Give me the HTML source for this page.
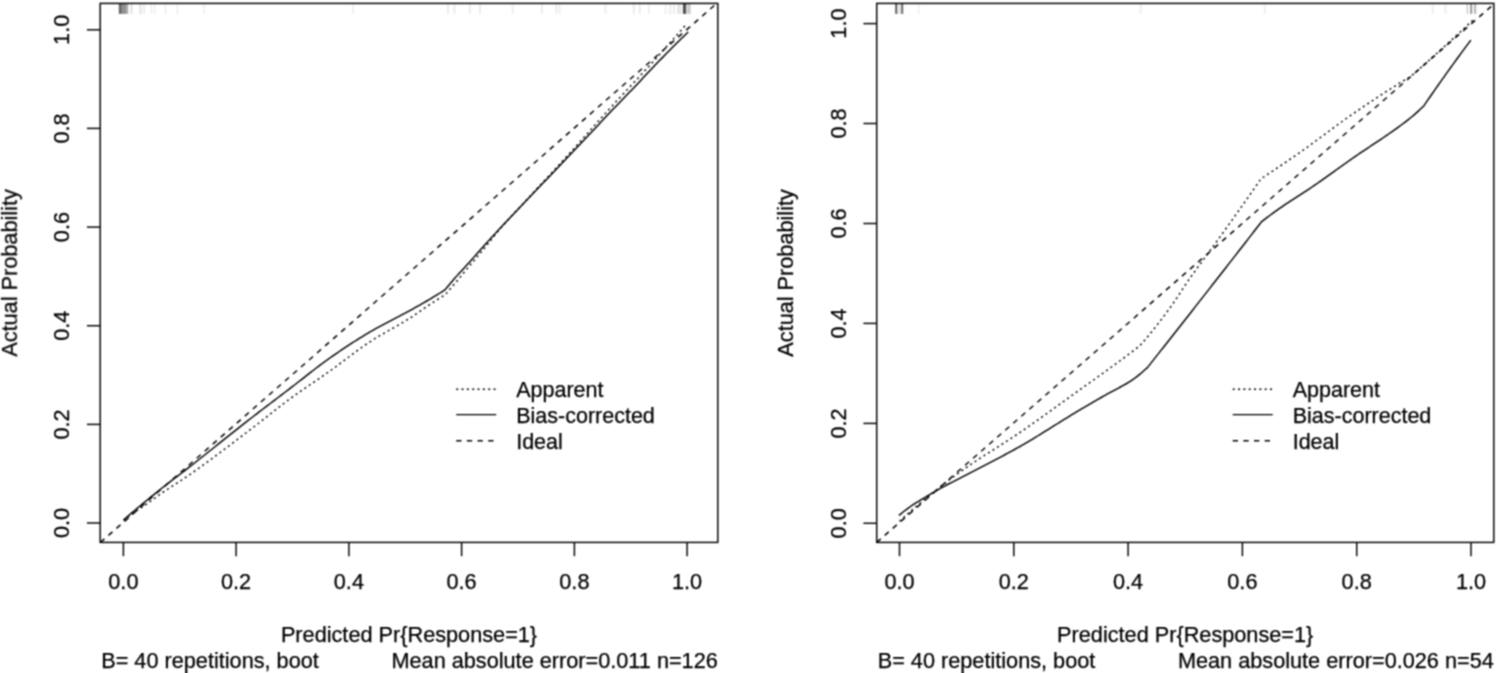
<!DOCTYPE html>
<html><head><meta charset="utf-8"><title>Calibration plots</title>
<style>html,body{margin:0;padding:0;background:#fff;width:1496px;height:673px;overflow:hidden}</style>
</head><body>
<svg width="1496" height="673" viewBox="0 0 1496 673" style="display:block" font-family='"Liberation Sans", sans-serif' font-size="21.7" fill="#000">
<style>text{stroke:#000;stroke-width:0.25px}</style>
<defs><filter id="bl" filterUnits="userSpaceOnUse" x="0" y="0" width="1496" height="673" color-interpolation-filters="sRGB"><feConvolveMatrix order="3" kernelMatrix="1 2 1 2 4 2 1 2 1" divisor="16" edgeMode="duplicate"/></filter></defs>
<g filter="url(#bl)">
<rect width="1496" height="673" fill="#fff"/>
<clipPath id="cL"><rect x="100.2" y="3.4" width="617.5999999999999" height="539.0"/></clipPath>
<rect x="118.8" y="3.4" width="3.0" height="10.5" fill="#686868"/>
<rect x="121.8" y="3.4" width="1.8" height="10.5" fill="#868686"/>
<rect x="123.6" y="3.4" width="2.2" height="10.5" fill="#808080"/>
<rect x="125.8" y="3.4" width="2.4" height="10.5" fill="#aaaaaa"/>
<rect x="130.5" y="3.4" width="2.0" height="10.5" fill="#e0e0e0"/>
<rect x="139.2" y="3.4" width="2.6" height="10.5" fill="#e6e6e6"/>
<rect x="143.2" y="3.4" width="1.8" height="10.5" fill="#eaeaea"/>
<rect x="150.6" y="3.4" width="1.6" height="10.5" fill="#eeeeee"/>
<rect x="153.8" y="3.4" width="1.8" height="10.5" fill="#f0f0f0"/>
<rect x="164.6" y="3.4" width="1.8" height="10.5" fill="#efefef"/>
<rect x="176.6" y="3.4" width="1.8" height="10.5" fill="#efefef"/>
<rect x="203.4" y="3.4" width="1.8" height="10.5" fill="#efefef"/>
<rect x="352.2" y="3.4" width="1.8" height="10.5" fill="#efefef"/>
<rect x="447.1" y="3.4" width="1.8" height="10.5" fill="#eaeaea"/>
<rect x="453.5" y="3.4" width="1.8" height="10.5" fill="#eaeaea"/>
<rect x="468.8" y="3.4" width="1.8" height="10.5" fill="#eaeaea"/>
<rect x="479.2" y="3.4" width="1.8" height="10.5" fill="#eaeaea"/>
<rect x="511.7" y="3.4" width="1.8" height="10.5" fill="#eeeeee"/>
<rect x="540.9" y="3.4" width="1.8" height="10.5" fill="#eaeaea"/>
<rect x="555.4" y="3.4" width="1.8" height="10.5" fill="#eaeaea"/>
<rect x="558.6" y="3.4" width="1.8" height="10.5" fill="#eeeeee"/>
<rect x="604.6" y="3.4" width="1.8" height="10.5" fill="#eeeeee"/>
<rect x="632.9" y="3.4" width="1.8" height="10.5" fill="#eaeaea"/>
<rect x="638.8" y="3.4" width="1.8" height="10.5" fill="#eaeaea"/>
<rect x="647.9" y="3.4" width="1.8" height="10.5" fill="#eeeeee"/>
<rect x="664.3" y="3.4" width="2.7" height="10.5" fill="#f4f4f4"/>
<rect x="668.8" y="3.4" width="2.7" height="10.5" fill="#f0f0f0"/>
<rect x="673.1" y="3.4" width="1.9" height="10.5" fill="#ececec"/>
<rect x="677.1" y="3.4" width="4.3" height="10.5" fill="#e6e6e6"/>
<rect x="682.9" y="3.4" width="3.2" height="10.5" fill="#525252"/>
<rect x="686.5" y="3.4" width="4.2" height="10.5" fill="#cccccc"/>
<line clip-path="url(#cL)" x1="100.4" y1="542.4" x2="799.4" y2="-68.9" stroke="#000" stroke-width="1.45" stroke-dasharray="5.33 5.33"/>
<polyline points="123.48,520.28 125.37,518.85 127.27,517.44 129.16,516.04 131.05,514.66 132.95,513.29 134.84,511.95 136.73,510.62 138.62,509.34 140.52,508.07 142.41,506.82 144.30,505.57 146.19,504.31 148.09,503.02 149.98,501.69 151.87,500.30 153.76,498.88 155.66,497.46 157.55,496.07 159.44,494.73 161.34,493.43 163.23,492.14 165.12,490.87 167.01,489.61 168.91,488.37 170.80,487.13 172.69,485.90 174.58,484.68 176.48,483.45 178.37,482.22 180.26,480.99 182.16,479.74 184.05,478.49 185.94,477.22 187.83,475.93 189.73,474.63 191.62,473.30 193.51,471.97 195.40,470.63 197.30,469.28 199.19,467.92 201.08,466.56 202.98,465.18 204.87,463.81 206.76,462.42 208.65,461.04 210.55,459.64 212.44,458.24 214.33,456.84 216.22,455.43 218.12,454.01 220.01,452.60 221.90,451.17 223.79,449.75 225.69,448.32 227.58,446.89 229.47,445.46 231.37,444.02 233.26,442.59 235.15,441.15 237.04,439.71 238.94,438.27 240.83,436.83 242.72,435.38 244.61,433.94 246.51,432.50 248.40,431.06 250.29,429.62 252.19,428.17 254.08,426.72 255.97,425.25 257.86,423.77 259.76,422.28 261.65,420.79 263.54,419.30 265.43,417.80 267.33,416.31 269.22,414.81 271.11,413.31 273.00,411.82 274.90,410.33 276.79,408.85 278.68,407.38 280.58,405.91 282.47,404.46 284.36,403.02 286.25,401.59 288.15,400.17 290.04,398.78 291.93,397.40 293.82,396.03 295.72,394.68 297.61,393.34 299.50,392.01 301.40,390.69 303.29,389.38 305.18,388.08 307.07,386.78 308.97,385.49 310.86,384.19 312.75,382.90 314.64,381.61 316.54,380.32 318.43,379.03 320.32,377.73 322.21,376.42 324.11,375.11 326.00,373.79 327.89,372.46 329.79,371.12 331.68,369.76 333.57,368.39 335.46,367.00 337.36,365.60 339.25,364.18 341.14,362.76 343.03,361.33 344.93,359.90 346.82,358.47 348.71,357.04 350.61,355.61 352.50,354.19 354.39,352.77 356.28,351.37 358.18,349.98 360.07,348.61 361.96,347.25 363.85,345.92 365.75,344.60 367.64,343.32 369.53,342.06 371.43,340.83 373.32,339.62 375.21,338.45 377.10,337.29 379.00,336.16 380.89,335.05 382.78,333.94 384.67,332.85 386.57,331.77 388.46,330.70 390.35,329.63 392.24,328.56 394.14,327.49 396.03,326.42 397.92,325.33 399.82,324.24 401.71,323.13 403.60,322.01 405.49,320.87 407.39,319.71 409.28,318.52 411.17,317.31 413.06,316.06 414.96,314.78 416.85,313.48 418.74,312.16 420.64,310.84 422.53,309.51 424.42,308.19 426.31,306.88 428.21,305.59 430.10,304.33 431.99,303.09 433.88,301.87 435.78,300.67 437.67,299.48 439.56,298.30 441.45,297.13 443.35,295.97 445.24,294.83 447.13,292.61 449.03,290.39 450.92,288.17 452.82,285.93 454.71,283.68 456.61,281.43 458.50,279.16 460.39,276.88 462.29,274.60 464.18,272.32 466.08,270.03 467.97,267.76 469.86,265.49 471.76,263.23 473.65,260.97 475.55,258.72 477.44,256.46 479.34,254.21 481.23,251.94 483.12,249.66 485.02,247.37 486.91,245.06 488.81,242.70 490.70,240.33 492.59,237.95 494.49,235.58 496.38,233.26 498.28,230.99 500.17,228.77 502.07,226.60 503.96,224.45 505.85,222.33 507.75,220.23 509.64,218.15 511.54,216.09 513.43,214.04 515.32,212.00 517.22,209.98 519.11,207.95 521.01,205.93 522.90,203.90 524.79,201.88 526.69,199.84 528.58,197.79 530.48,195.74 532.37,193.68 534.27,191.62 536.16,189.57 538.05,187.52 539.95,185.47 541.84,183.43 543.74,181.39 545.63,179.34 547.52,177.30 549.42,175.26 551.31,173.21 553.21,171.17 555.10,169.12 557.00,167.07 558.89,165.02 560.78,162.96 562.68,160.90 564.57,158.84 566.47,156.77 568.36,154.70 570.25,152.62 572.15,150.53 574.04,148.44 575.94,146.34 577.83,144.23 579.73,142.11 581.62,140.00 583.51,137.88 585.41,135.75 587.30,133.63 589.20,131.50 591.09,129.37 592.98,127.25 594.88,125.12 596.77,123.00 598.67,120.88 600.56,118.76 602.46,116.65 604.35,114.55 606.24,112.45 608.14,110.36 610.03,108.27 611.93,106.20 613.82,104.14 615.71,102.08 617.61,100.03 619.50,97.98 621.40,95.94 623.29,93.91 625.19,91.87 627.08,89.84 628.97,87.81 630.87,85.78 632.76,83.75 634.66,81.72 636.55,79.68 638.44,77.65 640.34,75.60 642.23,73.55 644.13,71.50 646.02,69.44 647.92,67.37 649.81,65.29 651.70,63.20 653.60,61.11 655.49,59.01 657.39,56.91 659.28,54.80 661.17,52.69 663.07,50.58 664.96,48.47 666.86,46.34 668.75,44.22 670.65,42.09 672.54,39.96 674.43,37.82 676.33,35.68 678.22,33.54 680.12,31.39 682.01,29.23 683.90,27.08 685.80,24.92" fill="none" stroke="#000" stroke-width="1.45" stroke-dasharray="2 3.33" stroke-linejoin="round"/>
<polyline points="123.59,519.89 125.49,518.26 127.38,516.64 129.27,515.02 131.16,513.42 133.05,511.81 134.95,510.22 136.84,508.63 138.73,507.04 140.62,505.47 142.51,503.90 144.41,502.33 146.30,500.78 148.19,499.22 150.08,497.68 151.97,496.14 153.87,494.61 155.76,493.08 157.65,491.56 159.54,490.04 161.44,488.54 163.33,487.04 165.22,485.56 167.11,484.09 169.00,482.63 170.90,481.18 172.79,479.73 174.68,478.29 176.57,476.85 178.46,475.41 180.36,473.97 182.25,472.52 184.14,471.08 186.03,469.62 187.92,468.16 189.82,466.69 191.71,465.21 193.60,463.73 195.49,462.24 197.38,460.75 199.28,459.26 201.17,457.76 203.06,456.26 204.95,454.76 206.84,453.25 208.74,451.74 210.63,450.24 212.52,448.73 214.41,447.21 216.30,445.70 218.20,444.19 220.09,442.68 221.98,441.17 223.87,439.65 225.76,438.14 227.66,436.63 229.55,435.13 231.44,433.62 233.33,432.11 235.22,430.61 237.12,429.11 239.01,427.62 240.90,426.12 242.79,424.64 244.68,423.15 246.58,421.67 248.47,420.19 250.36,418.72 252.25,417.26 254.14,415.79 256.04,414.33 257.93,412.88 259.82,411.43 261.71,409.98 263.60,408.53 265.50,407.09 267.39,405.65 269.28,404.21 271.17,402.77 273.07,401.33 274.96,399.90 276.85,398.46 278.74,397.02 280.63,395.59 282.53,394.15 284.42,392.71 286.31,391.27 288.20,389.83 290.09,388.38 291.99,386.93 293.88,385.47 295.77,384.01 297.66,382.53 299.55,381.05 301.45,379.57 303.34,378.09 305.23,376.60 307.12,375.12 309.01,373.64 310.91,372.17 312.80,370.70 314.69,369.24 316.58,367.79 318.47,366.35 320.37,364.92 322.26,363.51 324.15,362.11 326.04,360.73 327.93,359.37 329.83,358.03 331.72,356.71 333.61,355.39 335.50,354.08 337.39,352.78 339.29,351.49 341.18,350.21 343.07,348.93 344.96,347.67 346.85,346.42 348.75,345.17 350.64,343.94 352.53,342.71 354.42,341.50 356.31,340.30 358.21,339.11 360.10,337.93 361.99,336.76 363.88,335.60 365.77,334.46 367.67,333.32 369.56,332.20 371.45,331.10 373.34,330.01 375.23,328.94 377.13,327.89 379.02,326.86 380.91,325.83 382.80,324.82 384.70,323.82 386.59,322.82 388.48,321.84 390.37,320.85 392.26,319.87 394.16,318.89 396.05,317.91 397.94,316.93 399.83,315.94 401.72,314.94 403.62,313.94 405.51,312.93 407.40,311.91 409.29,310.87 411.18,309.82 413.08,308.77 414.97,307.71 416.86,306.65 418.75,305.59 420.64,304.51 422.54,303.43 424.43,302.34 426.32,301.25 428.21,300.14 430.10,299.02 432.00,297.89 433.89,296.74 435.78,295.59 437.67,294.42 439.56,293.24 441.46,292.06 443.35,290.86 445.24,289.65 447.14,287.29 449.04,284.96 450.94,282.67 452.83,280.43 454.73,278.24 456.63,276.12 458.53,274.04 460.43,271.99 462.32,269.95 464.22,267.91 466.12,265.84 468.02,263.75 469.92,261.64 471.82,259.51 473.71,257.38 475.61,255.24 477.51,253.10 479.41,250.96 481.31,248.82 483.21,246.69 485.10,244.57 487.00,242.46 488.90,240.37 490.80,238.30 492.70,236.23 494.60,234.18 496.49,232.13 498.39,230.09 500.29,228.06 502.19,226.03 504.09,224.01 505.99,221.99 507.88,219.98 509.78,217.97 511.68,215.97 513.58,213.97 515.48,211.97 517.38,209.97 519.27,207.98 521.17,205.98 523.07,203.99 524.97,201.99 526.87,200.00 528.77,198.00 530.66,196.00 532.56,194.01 534.46,192.02 536.36,190.03 538.26,188.04 540.15,186.06 542.05,184.08 543.95,182.10 545.85,180.13 547.75,178.15 549.65,176.17 551.54,174.20 553.44,172.22 555.34,170.25 557.24,168.27 559.14,166.29 561.04,164.31 562.93,162.33 564.83,160.34 566.73,158.35 568.63,156.36 570.53,154.36 572.43,152.36 574.32,150.36 576.22,148.35 578.12,146.34 580.02,144.32 581.92,142.30 583.82,140.29 585.71,138.27 587.61,136.24 589.51,134.22 591.41,132.20 593.31,130.18 595.21,128.16 597.10,126.14 599.00,124.13 600.90,122.11 602.80,120.10 604.70,118.09 606.59,116.08 608.49,114.08 610.39,112.09 612.29,110.10 614.19,108.12 616.09,106.14 617.98,104.17 619.88,102.20 621.78,100.24 623.68,98.27 625.58,96.31 627.48,94.34 629.37,92.37 631.27,90.39 633.17,88.41 635.07,86.43 636.97,84.43 638.87,82.42 640.76,80.41 642.66,78.36 644.56,76.29 646.46,74.23 648.36,72.19 650.26,70.18 652.15,68.20 654.05,66.22 655.95,64.25 657.85,62.28 659.75,60.32 661.65,58.37 663.54,56.42 665.44,54.49 667.34,52.56 669.24,50.64 671.14,48.73 673.04,46.82 674.93,44.93 676.83,43.05 678.73,41.18 680.63,39.33 682.53,37.48 684.42,35.65 686.32,33.82 688.22,32.02" fill="none" stroke="#000" stroke-width="1.45" stroke-linejoin="round"/>
<rect x="100.2" y="3.4" width="617.6" height="539.0" fill="none" stroke="#000" stroke-width="1.45"/>
<line x1="123.4" y1="542.4" x2="123.4" y2="556.2" stroke="#000" stroke-width="1.45"/>
<line x1="86.9" y1="523.0" x2="100.2" y2="523.0" stroke="#000" stroke-width="1.45"/>
<text x="123.4" y="589.4" text-anchor="middle">0.0</text>
<text transform="translate(69.3,523.0) rotate(-90)" x="0" y="0" text-anchor="middle">0.0</text>
<line x1="236.1" y1="542.4" x2="236.1" y2="556.2" stroke="#000" stroke-width="1.45"/>
<line x1="86.9" y1="424.4" x2="100.2" y2="424.4" stroke="#000" stroke-width="1.45"/>
<text x="236.1" y="589.4" text-anchor="middle">0.2</text>
<text transform="translate(69.3,424.4) rotate(-90)" x="0" y="0" text-anchor="middle">0.2</text>
<line x1="348.9" y1="542.4" x2="348.9" y2="556.2" stroke="#000" stroke-width="1.45"/>
<line x1="86.9" y1="325.7" x2="100.2" y2="325.7" stroke="#000" stroke-width="1.45"/>
<text x="348.9" y="589.4" text-anchor="middle">0.4</text>
<text transform="translate(69.3,325.7) rotate(-90)" x="0" y="0" text-anchor="middle">0.4</text>
<line x1="461.6" y1="542.4" x2="461.6" y2="556.2" stroke="#000" stroke-width="1.45"/>
<line x1="86.9" y1="227.1" x2="100.2" y2="227.1" stroke="#000" stroke-width="1.45"/>
<text x="461.6" y="589.4" text-anchor="middle">0.6</text>
<text transform="translate(69.3,227.1) rotate(-90)" x="0" y="0" text-anchor="middle">0.6</text>
<line x1="574.4" y1="542.4" x2="574.4" y2="556.2" stroke="#000" stroke-width="1.45"/>
<line x1="86.9" y1="128.4" x2="100.2" y2="128.4" stroke="#000" stroke-width="1.45"/>
<text x="574.4" y="589.4" text-anchor="middle">0.8</text>
<text transform="translate(69.3,128.4) rotate(-90)" x="0" y="0" text-anchor="middle">0.8</text>
<line x1="687.1" y1="542.4" x2="687.1" y2="556.2" stroke="#000" stroke-width="1.45"/>
<line x1="86.9" y1="29.8" x2="100.2" y2="29.8" stroke="#000" stroke-width="1.45"/>
<text x="687.1" y="589.4" text-anchor="middle">1.0</text>
<text transform="translate(69.3,29.8) rotate(-90)" x="0" y="0" text-anchor="middle">1.0</text>
<text transform="translate(16.9,272.9) rotate(-90)" text-anchor="middle">Actual Probability</text>
<text x="409.0" y="641.6" text-anchor="middle">Predicted Pr{Response=1}</text>
<text x="101.2" y="667.6" >B= 40 repetitions, boot</text>
<text x="717.8" y="667.6" text-anchor="end">Mean absolute error=0.011 n=126</text>
<line x1="456.2" y1="389.2" x2="496.2" y2="389.2" stroke="#000" stroke-width="1.45" stroke-dasharray="2 3.33"/>
<line x1="456.2" y1="414.6" x2="496.2" y2="414.6" stroke="#000" stroke-width="1.45"/>
<line x1="456.2" y1="440.7" x2="496.2" y2="440.7" stroke="#000" stroke-width="1.45" stroke-dasharray="5.33 5.33"/>
<text x="516.2" y="397.0" font-size="21.5">Apparent</text>
<text x="516.2" y="422.6" font-size="21.5">Bias-corrected</text>
<text x="516.2" y="448.5" font-size="21.5">Ideal</text>
<clipPath id="cR"><rect x="876.7" y="3.4" width="617.0999999999999" height="539.0"/></clipPath>
<rect x="895.3" y="3.4" width="2.0" height="10.5" fill="#505050"/>
<rect x="897.3" y="3.4" width="3.9" height="10.5" fill="#e6e6e6"/>
<rect x="901.2" y="3.4" width="2.0" height="10.5" fill="#6c6c6c"/>
<rect x="917.7" y="3.4" width="1.8" height="10.5" fill="#f0f0f0"/>
<rect x="1139.7" y="3.4" width="1.8" height="10.5" fill="#eeeeee"/>
<rect x="1263.9" y="3.4" width="1.8" height="10.5" fill="#eeeeee"/>
<rect x="1431.8" y="3.4" width="1.8" height="10.5" fill="#eeeeee"/>
<rect x="1444.6" y="3.4" width="1.8" height="10.5" fill="#eeeeee"/>
<rect x="1466.7" y="3.4" width="1.4" height="10.5" fill="#c8c8c8"/>
<rect x="1470.2" y="3.4" width="2.0" height="10.5" fill="#989898"/>
<rect x="1474.1" y="3.4" width="1.8" height="10.5" fill="#b0b0b0"/>
<rect x="1476.8" y="3.4" width="1.2" height="10.5" fill="#f2f2f2"/>
<line clip-path="url(#cR)" x1="876.7" y1="542.4" x2="1585.9" y2="-76.2" stroke="#000" stroke-width="1.45" stroke-dasharray="5.33 5.33"/>
<polyline points="899.50,521.30 901.42,519.56 903.35,517.83 905.27,516.10 907.20,514.39 909.12,512.69 911.04,511.00 912.97,509.33 914.89,507.66 916.81,506.01 918.74,504.37 920.66,502.74 922.59,501.13 924.51,499.53 926.43,497.95 928.36,496.37 930.28,494.81 932.20,493.25 934.13,491.70 936.05,490.16 937.98,488.63 939.90,487.11 941.82,485.59 943.75,484.09 945.67,482.61 947.59,481.13 949.52,479.67 951.44,478.21 953.37,476.78 955.29,475.35 957.21,473.94 959.14,472.55 961.06,471.17 962.98,469.80 964.91,468.46 966.83,467.12 968.76,465.81 970.68,464.50 972.60,463.21 974.53,461.93 976.45,460.66 978.37,459.40 980.30,458.15 982.22,456.90 984.15,455.66 986.07,454.43 987.99,453.20 989.92,451.97 991.84,450.75 993.76,449.52 995.69,448.30 997.61,447.08 999.54,445.85 1001.46,444.62 1003.38,443.39 1005.31,442.15 1007.23,440.90 1009.15,439.65 1011.08,438.39 1013.00,437.12 1014.93,435.84 1016.85,434.55 1018.77,433.25 1020.70,431.94 1022.62,430.61 1024.54,429.28 1026.47,427.95 1028.39,426.61 1030.32,425.26 1032.24,423.91 1034.16,422.56 1036.09,421.20 1038.01,419.83 1039.93,418.47 1041.86,417.10 1043.78,415.72 1045.71,414.34 1047.63,412.96 1049.55,411.58 1051.48,410.20 1053.40,408.81 1055.32,407.42 1057.25,406.03 1059.17,404.64 1061.10,403.25 1063.02,401.86 1064.94,400.47 1066.87,399.08 1068.79,397.69 1070.71,396.30 1072.64,394.91 1074.56,393.52 1076.49,392.14 1078.41,390.75 1080.33,389.37 1082.26,387.99 1084.18,386.61 1086.10,385.24 1088.03,383.86 1089.95,382.49 1091.88,381.11 1093.80,379.74 1095.72,378.36 1097.65,376.98 1099.57,375.60 1101.49,374.22 1103.42,372.84 1105.34,371.46 1107.27,370.07 1109.19,368.68 1111.11,367.28 1113.04,365.88 1114.96,364.48 1116.88,363.07 1118.81,361.65 1120.73,360.23 1122.66,358.81 1124.58,357.37 1126.50,355.93 1128.43,354.47 1130.35,353.01 1132.27,351.55 1134.20,350.08 1136.12,348.60 1138.05,347.12 1139.97,345.64 1141.92,343.43 1143.87,341.18 1145.83,338.89 1147.78,336.56 1149.73,334.20 1151.68,331.80 1153.63,329.37 1155.59,326.91 1157.54,324.41 1159.49,321.89 1161.44,319.33 1163.39,316.75 1165.35,314.14 1167.30,311.51 1169.25,308.85 1171.20,306.15 1173.16,303.35 1175.11,300.48 1177.06,297.55 1179.01,294.58 1180.96,291.59 1182.92,288.60 1184.87,285.63 1186.82,282.70 1188.77,279.83 1190.73,277.03 1192.68,274.29 1194.63,271.57 1196.58,268.89 1198.53,266.23 1200.49,263.58 1202.44,260.95 1204.39,258.33 1206.34,255.70 1208.30,253.07 1210.25,250.43 1212.20,247.77 1214.15,245.09 1216.10,242.38 1218.06,239.67 1220.01,236.95 1221.96,234.23 1223.91,231.50 1225.86,228.77 1227.82,226.03 1229.77,223.29 1231.72,220.55 1233.67,217.80 1235.63,215.04 1237.58,212.29 1239.53,209.52 1241.48,206.75 1243.43,203.98 1245.39,201.20 1247.34,198.41 1249.29,195.62 1251.24,192.83 1253.20,190.02 1255.15,187.22 1257.10,184.40 1259.05,181.58 1261.00,178.76 1262.94,177.49 1264.88,176.21 1266.82,174.93 1268.76,173.64 1270.70,172.35 1272.64,171.06 1274.58,169.76 1276.51,168.46 1278.45,167.15 1280.39,165.84 1282.33,164.52 1284.27,163.20 1286.21,161.88 1288.15,160.55 1290.09,159.22 1292.03,157.88 1293.96,156.54 1295.90,155.19 1297.84,153.84 1299.78,152.49 1301.72,151.13 1303.66,149.76 1305.60,148.38 1307.54,146.99 1309.48,145.58 1311.41,144.17 1313.35,142.75 1315.29,141.32 1317.23,139.89 1319.17,138.45 1321.11,137.01 1323.05,135.56 1324.99,134.12 1326.93,132.67 1328.86,131.23 1330.80,129.79 1332.74,128.35 1334.68,126.91 1336.62,125.49 1338.56,124.07 1340.50,122.66 1342.44,121.25 1344.37,119.86 1346.31,118.48 1348.25,117.12 1350.19,115.77 1352.13,114.43 1354.07,113.09 1356.01,111.75 1357.95,110.42 1359.89,109.10 1361.82,107.78 1363.76,106.46 1365.70,105.15 1367.64,103.84 1369.58,102.54 1371.52,101.24 1373.46,99.95 1375.40,98.67 1377.34,97.39 1379.27,96.11 1381.21,94.84 1383.15,93.58 1385.09,92.33 1387.03,91.08 1388.97,89.84 1390.91,88.60 1392.85,87.37 1394.79,86.15 1396.72,84.93 1398.66,83.73 1400.60,82.53 1402.54,81.35 1404.48,80.19 1406.42,79.05 1408.36,77.91 1410.30,76.78 1412.32,75.02 1414.34,73.26 1416.36,71.49 1418.39,69.71 1420.41,67.94 1422.43,66.15 1424.45,64.36 1426.47,62.57 1428.50,60.77 1430.52,58.97 1432.54,57.16 1434.56,55.35 1436.59,53.54 1438.61,51.72 1440.63,49.89 1442.65,48.07 1444.68,46.24 1446.70,44.41 1448.72,42.57 1450.74,40.73 1452.76,38.88 1454.79,37.03 1456.81,35.17 1458.83,33.30 1460.85,31.43 1462.88,29.56 1464.90,27.68 1466.92,25.79 1468.94,23.90 1470.96,22.01 1472.99,20.11" fill="none" stroke="#000" stroke-width="1.45" stroke-dasharray="2 3.33" stroke-linejoin="round"/>
<polyline points="898.93,515.42 900.85,513.83 902.78,512.29 904.71,510.78 906.63,509.31 908.56,507.89 910.49,506.52 912.41,505.20 914.34,503.93 916.26,502.71 918.19,501.52 920.12,500.35 922.04,499.20 923.97,498.04 925.89,496.89 927.82,495.73 929.75,494.57 931.67,493.41 933.60,492.27 935.53,491.14 937.45,490.03 939.38,488.93 941.30,487.85 943.23,486.80 945.16,485.77 947.08,484.76 949.01,483.76 950.93,482.77 952.86,481.79 954.79,480.80 956.71,479.81 958.64,478.82 960.57,477.81 962.49,476.80 964.42,475.80 966.34,474.80 968.27,473.80 970.20,472.80 972.12,471.81 974.05,470.82 975.98,469.82 977.90,468.83 979.83,467.84 981.75,466.85 983.68,465.85 985.61,464.86 987.53,463.86 989.46,462.86 991.38,461.86 993.31,460.86 995.24,459.85 997.16,458.84 999.09,457.83 1001.02,456.81 1002.94,455.78 1004.87,454.75 1006.79,453.72 1008.72,452.67 1010.65,451.63 1012.57,450.57 1014.50,449.51 1016.42,448.44 1018.35,447.36 1020.28,446.27 1022.20,445.17 1024.13,444.06 1026.06,442.94 1027.98,441.81 1029.91,440.66 1031.83,439.51 1033.76,438.35 1035.69,437.18 1037.61,436.00 1039.54,434.82 1041.47,433.63 1043.39,432.44 1045.32,431.24 1047.24,430.04 1049.17,428.84 1051.10,427.63 1053.02,426.43 1054.95,425.22 1056.87,424.01 1058.80,422.81 1060.73,421.60 1062.65,420.40 1064.58,419.20 1066.51,418.01 1068.43,416.82 1070.36,415.63 1072.28,414.46 1074.21,413.28 1076.14,412.12 1078.06,410.97 1079.99,409.82 1081.91,408.68 1083.84,407.55 1085.77,406.42 1087.69,405.29 1089.62,404.17 1091.55,403.05 1093.47,401.94 1095.40,400.82 1097.32,399.72 1099.25,398.61 1101.18,397.50 1103.10,396.40 1105.03,395.30 1106.96,394.20 1108.88,393.13 1110.81,392.09 1112.73,391.06 1114.66,390.04 1116.59,389.03 1118.51,388.02 1120.44,386.99 1122.36,385.94 1124.29,384.86 1126.22,383.75 1128.14,382.59 1130.07,381.39 1132.00,380.12 1133.92,378.79 1135.85,377.37 1137.77,375.87 1139.70,374.32 1141.63,372.70 1143.55,371.03 1145.48,369.33 1147.40,367.59 1149.37,365.11 1151.34,362.62 1153.30,360.13 1155.27,357.64 1157.23,355.15 1159.20,352.66 1161.16,350.17 1163.13,347.68 1165.09,345.18 1167.06,342.69 1169.03,340.19 1170.99,337.70 1172.96,335.20 1174.92,332.70 1176.89,330.21 1178.85,327.71 1180.82,325.20 1182.78,322.70 1184.75,320.20 1186.72,317.70 1188.68,315.19 1190.65,312.69 1192.61,310.18 1194.58,307.67 1196.54,305.17 1198.51,302.66 1200.47,300.15 1202.44,297.64 1204.40,295.13 1206.37,292.61 1208.34,290.10 1210.30,287.58 1212.27,285.07 1214.23,282.55 1216.20,280.04 1218.16,277.52 1220.13,275.00 1222.09,272.48 1224.06,269.96 1226.03,267.44 1227.99,264.92 1229.96,262.40 1231.92,259.87 1233.89,257.35 1235.85,254.82 1237.82,252.30 1239.78,249.77 1241.75,247.24 1243.71,244.71 1245.68,242.18 1247.65,239.65 1249.61,237.12 1251.58,234.59 1253.54,232.06 1255.51,229.52 1257.47,226.99 1259.44,224.45 1261.40,221.91 1263.34,220.41 1265.27,218.92 1267.20,217.44 1269.14,215.97 1271.07,214.52 1273.00,213.09 1274.94,211.68 1276.87,210.29 1278.80,208.93 1280.74,207.59 1282.67,206.28 1284.60,204.97 1286.54,203.69 1288.47,202.41 1290.40,201.15 1292.34,199.90 1294.27,198.65 1296.20,197.40 1298.14,196.16 1300.07,194.91 1302.00,193.66 1303.94,192.40 1305.87,191.13 1307.80,189.86 1309.73,188.57 1311.67,187.26 1313.60,185.93 1315.53,184.60 1317.47,183.26 1319.40,181.91 1321.33,180.55 1323.27,179.18 1325.20,177.81 1327.13,176.44 1329.07,175.06 1331.00,173.67 1332.93,172.29 1334.87,170.90 1336.80,169.52 1338.73,168.13 1340.67,166.75 1342.60,165.36 1344.53,163.98 1346.47,162.61 1348.40,161.24 1350.33,159.87 1352.27,158.51 1354.20,157.17 1356.13,155.84 1358.07,154.52 1360.00,153.21 1361.93,151.91 1363.87,150.62 1365.80,149.33 1367.73,148.04 1369.66,146.76 1371.60,145.47 1373.53,144.19 1375.46,142.91 1377.40,141.62 1379.33,140.33 1381.26,139.03 1383.20,137.73 1385.13,136.42 1387.06,135.10 1389.00,133.77 1390.93,132.43 1392.86,131.07 1394.80,129.70 1396.73,128.31 1398.66,126.90 1400.60,125.48 1402.53,124.04 1404.46,122.57 1406.40,121.09 1408.33,119.57 1410.26,118.04 1412.20,116.47 1414.13,114.85 1416.06,113.15 1418.00,111.39 1419.93,109.58 1421.86,107.75 1423.80,105.92 1425.84,102.93 1427.88,99.95 1429.93,96.98 1431.97,94.02 1434.02,91.08 1436.06,88.15 1438.11,85.23 1440.15,82.33 1442.19,79.43 1444.24,76.55 1446.28,73.68 1448.33,70.82 1450.37,67.98 1452.42,65.14 1454.46,62.32 1456.50,59.51 1458.55,56.72 1460.59,53.94 1462.64,51.17 1464.68,48.41 1466.73,45.67 1468.77,42.93 1470.81,40.21" fill="none" stroke="#000" stroke-width="1.45" stroke-linejoin="round"/>
<rect x="876.7" y="3.4" width="617.1" height="539.0" fill="none" stroke="#000" stroke-width="1.45"/>
<line x1="899.5" y1="542.4" x2="899.5" y2="556.2" stroke="#000" stroke-width="1.45"/>
<line x1="863.4" y1="523.3" x2="876.7" y2="523.3" stroke="#000" stroke-width="1.45"/>
<text x="899.5" y="589.4" text-anchor="middle">0.0</text>
<text transform="translate(845.8,523.3) rotate(-90)" x="0" y="0" text-anchor="middle">0.0</text>
<line x1="1013.8" y1="542.4" x2="1013.8" y2="556.2" stroke="#000" stroke-width="1.45"/>
<line x1="863.4" y1="423.4" x2="876.7" y2="423.4" stroke="#000" stroke-width="1.45"/>
<text x="1013.8" y="589.4" text-anchor="middle">0.2</text>
<text transform="translate(845.8,423.4) rotate(-90)" x="0" y="0" text-anchor="middle">0.2</text>
<line x1="1128.1" y1="542.4" x2="1128.1" y2="556.2" stroke="#000" stroke-width="1.45"/>
<line x1="863.4" y1="323.4" x2="876.7" y2="323.4" stroke="#000" stroke-width="1.45"/>
<text x="1128.1" y="589.4" text-anchor="middle">0.4</text>
<text transform="translate(845.8,323.4) rotate(-90)" x="0" y="0" text-anchor="middle">0.4</text>
<line x1="1242.4" y1="542.4" x2="1242.4" y2="556.2" stroke="#000" stroke-width="1.45"/>
<line x1="863.4" y1="223.5" x2="876.7" y2="223.5" stroke="#000" stroke-width="1.45"/>
<text x="1242.4" y="589.4" text-anchor="middle">0.6</text>
<text transform="translate(845.8,223.5) rotate(-90)" x="0" y="0" text-anchor="middle">0.6</text>
<line x1="1356.7" y1="542.4" x2="1356.7" y2="556.2" stroke="#000" stroke-width="1.45"/>
<line x1="863.4" y1="123.5" x2="876.7" y2="123.5" stroke="#000" stroke-width="1.45"/>
<text x="1356.7" y="589.4" text-anchor="middle">0.8</text>
<text transform="translate(845.8,123.5) rotate(-90)" x="0" y="0" text-anchor="middle">0.8</text>
<line x1="1471.0" y1="542.4" x2="1471.0" y2="556.2" stroke="#000" stroke-width="1.45"/>
<line x1="863.4" y1="23.6" x2="876.7" y2="23.6" stroke="#000" stroke-width="1.45"/>
<text x="1471.0" y="589.4" text-anchor="middle">1.0</text>
<text transform="translate(845.8,23.6) rotate(-90)" x="0" y="0" text-anchor="middle">1.0</text>
<text transform="translate(793.4,272.9) rotate(-90)" text-anchor="middle">Actual Probability</text>
<text x="1185.2" y="641.6" text-anchor="middle">Predicted Pr{Response=1}</text>
<text x="877.7" y="667.6" >B= 40 repetitions, boot</text>
<text x="1493.8" y="667.6" text-anchor="end">Mean absolute error=0.026 n=54</text>
<line x1="1232.7" y1="389.2" x2="1272.7" y2="389.2" stroke="#000" stroke-width="1.45" stroke-dasharray="2 3.33"/>
<line x1="1232.7" y1="414.6" x2="1272.7" y2="414.6" stroke="#000" stroke-width="1.45"/>
<line x1="1232.7" y1="440.7" x2="1272.7" y2="440.7" stroke="#000" stroke-width="1.45" stroke-dasharray="5.33 5.33"/>
<text x="1292.7" y="397.0" font-size="21.5">Apparent</text>
<text x="1292.7" y="422.6" font-size="21.5">Bias-corrected</text>
<text x="1292.7" y="448.5" font-size="21.5">Ideal</text>
</g>
</svg>
</body></html>
